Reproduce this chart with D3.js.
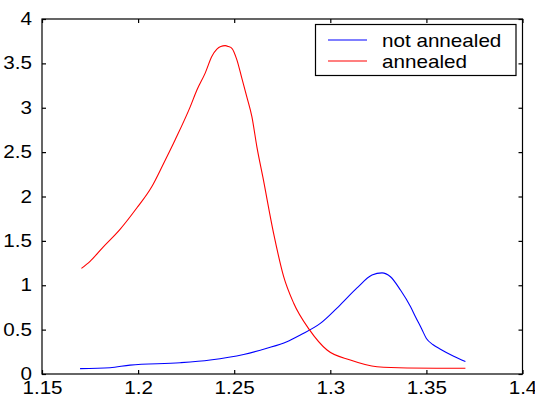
<!DOCTYPE html>
<html>
<head>
<meta charset="utf-8">
<script src="https://cdn.jsdelivr.net/npm/d3@7"></script>
<style>
  html, body { margin: 0; padding: 0; background: #fff; }
  text { font-family: "Liberation Sans", Arial, sans-serif; fill: #000; }
</style>
</head>
<body>
<svg id="chart" width="535" height="400"></svg>
<script>
// ---- data ----
const seriesNames = ["not annealed", "annealed"];
const seriesColors = ["#0000ff", "#ff0000"];

const notAnnealedX = [1.1698, 1.1854, 1.1958, 1.2219, 1.2375, 1.2549, 1.267, 1.2774, 1.2844, 1.2948, 1.3052, 1.3139, 1.3217, 1.3269, 1.3313, 1.3365, 1.3417, 1.3443, 1.3475, 1.35, 1.3535, 1.3573, 1.3642, 1.3703];
const notAnnealedY = [0.06, 0.071, 0.10, 0.127, 0.158, 0.22, 0.29, 0.364, 0.44, 0.57, 0.78, 0.97, 1.115, 1.14, 1.096, 0.946, 0.76, 0.645, 0.51, 0.40, 0.33, 0.28, 0.20, 0.14];

const annealedX = [1.1705, 1.175, 1.1818, 1.1906, 1.1993, 1.2071, 1.2132, 1.2193, 1.2271, 1.2306, 1.2349, 1.2384, 1.241, 1.243, 1.2453, 1.247, 1.2488, 1.2514, 1.254, 1.2566, 1.2592, 1.2618, 1.2649, 1.2705, 1.2757, 1.2809, 1.2891, 1.2983, 1.3104, 1.3243, 1.34, 1.3703];
const annealedY = [1.19, 1.27, 1.43, 1.63, 1.87, 2.11, 2.37, 2.64, 3.01, 3.20, 3.39, 3.58, 3.66, 3.69, 3.70, 3.69, 3.67, 3.54, 3.33, 3.12, 2.90, 2.56, 2.22, 1.585, 1.10, 0.80, 0.50, 0.27, 0.158, 0.082, 0.068, 0.064];

const xTicks = [1.15, 1.2, 1.25, 1.3, 1.35, 1.4];
const yTicks = [0, 0.5, 1, 1.5, 2, 2.5, 3, 3.5, 4];

// ---- layout ----
const svg = d3.select("#chart");
const L = 42, R = 522.5, T = 19, B = 374;
const x = d3.scaleLinear().domain([1.15, 1.4]).range([L, R]);
const y = d3.scaleLinear().domain([0, 4]).range([B, T]);
const fontSize = 17.5, sx = 1.18;

// curves
const series = [
  notAnnealedX.map((v, i) => [v, notAnnealedY[i]]),
  annealedX.map((v, i) => [v, annealedY[i]])
];
const line = d3.line().x(d => x(d[0])).y(d => y(d[1])).curve(d3.curveMonotoneX);
series.forEach((s, i) => {
  svg.append("path").datum(s).attr("d", line)
    .attr("fill", "none").attr("stroke", seriesColors[i]).attr("stroke-width", 1.1);
});

// frame
svg.append("rect").attr("x", L).attr("y", T).attr("width", R - L).attr("height", B - T)
  .attr("fill", "none").attr("stroke", "#000").attr("stroke-width", 1.2);

// axes with inward ticks
const fmt = d => String(d);
const gB = svg.append("g").attr("transform", `translate(0,${B})`)
  .call(d3.axisBottom(x).tickValues(xTicks).tickSize(-4).tickPadding(8).tickFormat(fmt));
const gT = svg.append("g").attr("transform", `translate(0,${T})`)
  .call(d3.axisTop(x).tickValues(xTicks).tickSize(-4).tickFormat(""));
const gL = svg.append("g").attr("transform", `translate(${L},0)`)
  .call(d3.axisLeft(y).tickValues(yTicks).tickSize(-4).tickPadding(10).tickFormat(fmt));
const gR = svg.append("g").attr("transform", `translate(${R},0)`)
  .call(d3.axisRight(y).tickValues(yTicks).tickSize(-4).tickFormat(""));
[gB, gT, gL, gR].forEach(g => {
  g.select(".domain").remove();
  g.selectAll(".tick line").attr("stroke", "#000").attr("stroke-width", 1.2);
  g.selectAll("text").attr("font-size", fontSize)
    .attr("font-family", "Liberation Sans, Arial, sans-serif").attr("fill", "#000");
});
// horizontally stretch tick labels around their anchor
gB.selectAll(".tick text").attr("transform", `scale(${sx},1)`);
gL.selectAll(".tick text").each(function() {
  const t = d3.select(this);
  const xx = +t.attr("x");
  t.attr("transform", `translate(${xx},0) scale(${sx},1) translate(${-xx},0)`);
});

// legend
const lg = svg.append("g");
lg.append("rect").attr("x", 315.5).attr("y", 24.5).attr("width", 200.5).attr("height", 51)
  .attr("fill", "#fff").attr("stroke", "#000").attr("stroke-width", 1.2);
const rowsY = [40, 61];
seriesNames.forEach((name, i) => {
  lg.append("line").attr("x1", 328).attr("x2", 367).attr("y1", rowsY[i]).attr("y2", rowsY[i])
    .attr("stroke", seriesColors[i]).attr("stroke-width", 1.1);
  lg.append("text").attr("transform", `translate(382,${rowsY[i] + 6.5}) scale(${sx},1)`)
    .attr("font-size", fontSize).text(name);
});
</script>
</body>
</html>
